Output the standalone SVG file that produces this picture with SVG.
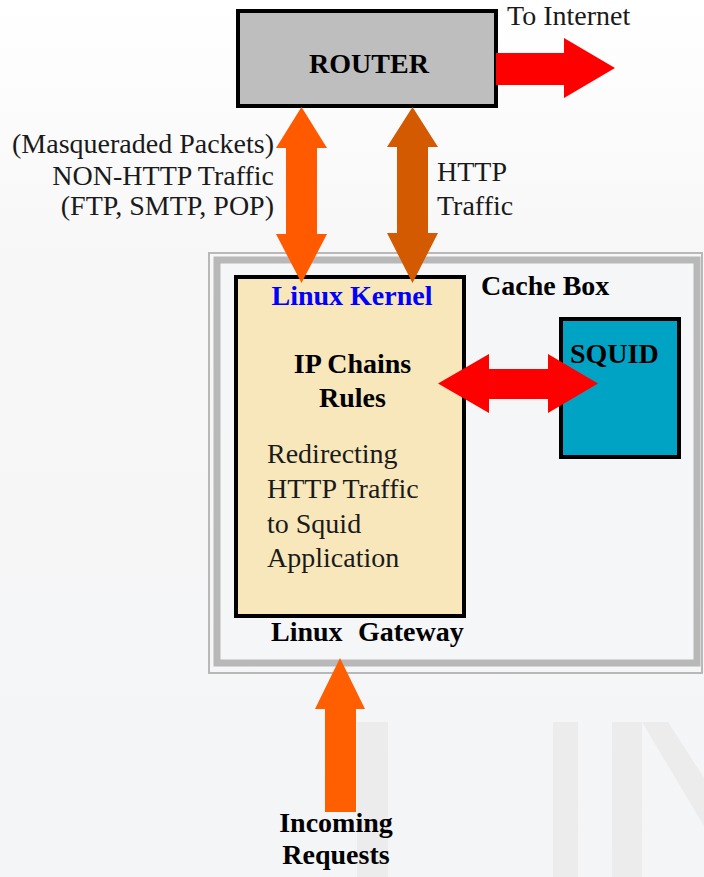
<svg xmlns="http://www.w3.org/2000/svg" width="704" height="877" viewBox="0 0 704 877">
  <defs>
    <linearGradient id="bg" x1="0" y1="0" x2="0" y2="1">
      <stop offset="0" stop-color="#ffffff"/>
      <stop offset="0.3" stop-color="#f7f7f8"/>
      <stop offset="1" stop-color="#f4f5f6"/>
    </linearGradient>
    <style>
      .t { font-family: "Liberation Serif", "Times New Roman", serif; font-size: 28px; fill: #1a1a1a; }
      .b { font-weight: bold; fill: #000000; }
      .box { stroke: #000000; stroke-width: 4; }
      .wm { fill: #ececed; }
    </style>
  </defs>

  <rect x="0" y="0" width="704" height="877" fill="url(#bg)"/>

  <!-- faint background watermark -->
  <g id="watermark">
    <rect class="wm" x="357" y="722" width="31" height="155"/>
    <rect class="wm" x="553" y="722" width="25" height="155"/>
    <rect class="wm" x="612" y="722" width="30" height="155"/>
    <polygon class="wm" points="642,722 668,722 704,778 704,826"/>
  </g>

  <g id="cache-box">
    <rect x="209" y="253" width="493" height="420" fill="none" stroke="#b8b8b8" stroke-width="2"/>
    <rect x="217" y="260" width="480" height="403" fill="#f5f6f7" stroke="#b8b8b8" stroke-width="7"/>
    <text class="t b" x="481" y="295">Cache Box</text>
  </g>

  <g id="router">
    <rect class="box" x="238" y="11" width="258" height="95" fill="#bebebe"/>
    <text class="t b" x="369" y="73" text-anchor="middle">ROUTER</text>
  </g>

  <g id="linux-gateway">
    <rect class="box" x="236" y="277" width="228" height="339" fill="#f7e7bb"/>
    <text class="t b" x="352" y="305" text-anchor="middle" style="fill:#0000ff">Linux Kernel</text>
    <text class="t b" x="352.5" y="373" text-anchor="middle">IP Chains</text>
    <text class="t b" x="352.5" y="407" text-anchor="middle">Rules</text>
    <text class="t" x="267" y="463">Redirecting</text>
    <text class="t" x="267" y="498">HTTP Traffic</text>
    <text class="t" x="267" y="533">to Squid</text>
    <text class="t" x="267" y="567">Application</text>
    <text class="t b" y="641"><tspan x="271">Linux</tspan><tspan x="358">Gateway</tspan></text>
  </g>

  <g id="squid">
    <rect class="box" x="561" y="319" width="118" height="138" fill="#00a3c4"/>
    <text class="t b" x="570" y="363">SQUID</text>
  </g>

  <g id="connectors">
    <polygon fill="#ff0000" points="496,53 564,53 564,38 615,68 564,98 564,85 496,85"/>
    <polygon fill="#ff5a00" points="301.5,107 327,148 317,148 317,234 327,234 301.5,283 276,234 286,234 286,148 276,148"/>
    <polygon fill="#d35a00" points="412.5,107 438,147 428,147 428,233 438,233 412.5,283 387,233 397,233 397,147 387,147"/>
    <polygon fill="#ff0000" points="438,383.5 489,354 489,369 548,369 548,354 598,383.5 548,413 548,399 489,399 489,413"/>
    <polygon fill="#ff5f00" points="340,658 365,709 356,709 356,812 325,812 325,709 315,709"/>
  </g>

  <g id="labels">
    <text class="t" x="507" y="25">To Internet</text>
    <text class="t" x="274" y="153" text-anchor="end">(Masqueraded Packets)</text>
    <text class="t" x="274" y="185" text-anchor="end">NON-HTTP Traffic</text>
    <text class="t" x="274" y="215" text-anchor="end">(FTP, SMTP, POP)</text>
    <text class="t" x="437" y="181">HTTP</text>
    <text class="t" x="437" y="215">Traffic</text>
    <text class="t b" x="336" y="832" text-anchor="middle">Incoming</text>
    <text class="t b" x="336" y="864" text-anchor="middle">Requests</text>
  </g>
</svg>
